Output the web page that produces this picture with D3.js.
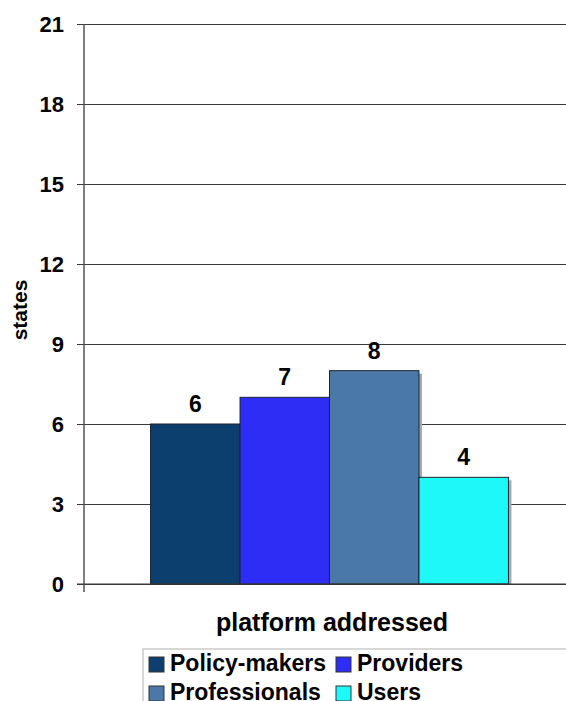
<!DOCTYPE html>
<html>
<head>
<meta charset="utf-8">
<script src="https://cdn.jsdelivr.net/npm/d3@7"></script>
<style>
  html, body { margin: 0; padding: 0; background: #fff; }
  svg { display: block; font-family: "Liberation Sans", Arial, sans-serif; font-weight: bold; }
</style>
</head>
<body>
<svg id="chart" width="566" height="701"></svg>
<script>
// Number of states per platform audience
const group = "platform addressed";
const series = ["Policy-makers", "Providers", "Professionals", "Users"];
const values = [6, 7, 8, 4];
const colors = ["#0c3f6e", "#2d2df5", "#4a79a8", "#1ef8f8"];
const yTicks = [0, 3, 6, 9, 12, 15, 18, 21];
const yTitle = "states";

const svg = d3.select("#chart");
const plot = { left: 84, right: 575, top: 24, bottom: 584 };

const y = d3.scaleLinear().domain([0, 21]).range([plot.bottom, plot.top]);
const x0 = d3.scaleBand().domain([group]).range([plot.left, plot.right])
  .paddingInner(0).paddingOuter(0.186);
const x1 = d3.scaleBand().domain(series).range([0, x0.bandwidth()]).padding(0);
const color = d3.scaleOrdinal().domain(series).range(colors);

// horizontal gridlines with outward ticks and labels
const yAxis = d3.axisLeft(y).tickValues(yTicks).tickSize(-(566 - plot.left)).tickPadding(20)
  .tickFormat(d3.format("d"));
const gy = svg.append("g").attr("transform", `translate(${plot.left},0)`).call(yAxis);
gy.select(".domain").remove();
gy.selectAll(".tick line").attr("x1", -7).attr("stroke", "#3a3a3a").attr("stroke-width", 1.2);
gy.selectAll(".tick text").attr("font-size", 22).attr("font-weight", "bold")
  .attr("fill", "#000").attr("font-family", "Liberation Sans, Arial, sans-serif");

// vertical axis line
svg.append("line")
  .attr("x1", plot.left).attr("x2", plot.left)
  .attr("y1", plot.top).attr("y2", plot.bottom + 8)
  .attr("stroke", "#555").attr("stroke-width", 1.5);

const data = series.map((s, i) => ({ key: s, value: values[i] }));
const bars = svg.append("g").attr("transform", `translate(${x0(group)},0)`);

// soft drop shadow behind each bar
bars.selectAll("rect.shadow").data(data).join("rect")
  .attr("class", "shadow")
  .attr("x", d => x1(d.key) + 3)
  .attr("y", d => y(d.value) + 3)
  .attr("width", x1.bandwidth())
  .attr("height", d => y(0) - y(d.value) - 3)
  .attr("fill", "#a8a8a8");

bars.selectAll("rect.bar").data(data).join("rect")
  .attr("class", "bar")
  .attr("x", d => x1(d.key))
  .attr("y", d => y(d.value))
  .attr("width", x1.bandwidth())
  .attr("height", d => y(0) - y(d.value))
  .attr("fill", d => color(d.key))
  .attr("stroke", "#1c2430").attr("stroke-width", 1);

// value labels above bars
bars.selectAll("text.val").data(data).join("text")
  .attr("class", "val")
  .attr("x", d => x1(d.key) + x1.bandwidth() / 2)
  .attr("y", d => y(d.value) - 12)
  .attr("text-anchor", "middle")
  .attr("font-size", 23)
  .attr("fill", "#000")
  .text(d => d.value);

// baseline across the plot
svg.append("line")
  .attr("x1", plot.left - 7).attr("x2", 566)
  .attr("y1", y(0)).attr("y2", y(0))
  .attr("stroke", "#3a3a3a").attr("stroke-width", 1.2);

// axis titles
svg.append("text")
  .attr("x", 332).attr("y", 631)
  .attr("text-anchor", "middle")
  .attr("font-size", 25)
  .attr("fill", "#000")
  .text(group);

svg.append("text")
  .attr("transform", "translate(27,310) rotate(-90)")
  .attr("text-anchor", "middle")
  .attr("font-size", 21)
  .attr("fill", "#000")
  .text(yTitle);

// legend
const legend = svg.append("g").attr("transform", "translate(143,649)");
legend.append("rect")
  .attr("x", 0).attr("y", 0).attr("width", 500).attr("height", 100)
  .attr("fill", "#fff").attr("stroke", "#bdbdbd").attr("stroke-width", 1.2);

const legendPos = [
  { dx: 6, dy: 8 }, { dx: 193, dy: 8 },
  { dx: 6, dy: 37 }, { dx: 193, dy: 37 }
];
const items = legend.selectAll("g.item").data(series).join("g")
  .attr("class", "item")
  .attr("transform", (d, i) => `translate(${legendPos[i].dx},${legendPos[i].dy})`);
items.append("rect")
  .attr("width", 15).attr("height", 15)
  .attr("fill", d => color(d))
  .attr("stroke", "#333").attr("stroke-width", 1);
items.append("text")
  .attr("x", 21).attr("y", 14)
  .attr("font-size", 23)
  .attr("fill", "#000")
  .text(d => d);
</script>
</body>
</html>
